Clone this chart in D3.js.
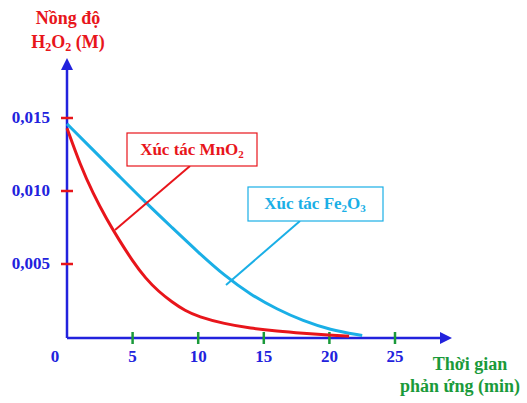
<!DOCTYPE html><html><head><meta charset="utf-8"><script src="https://cdn.jsdelivr.net/npm/d3@7"></script>
<style>body{margin:0;background:#fff}text{font-family:"Liberation Serif","DejaVu Serif",serif;font-weight:bold}</style></head><body>
<svg id="c" width="527" height="403"></svg>
<script>
const xTicks=[5,10,15,20,25];
const yTicks=[0.005,0.010,0.015];
const yTickLabels=["0,005","0,010","0,015"];
const redT=[0,1,2,3,4,5,6,7,8,9,10,12,14,16,18,20,21.5];
const redV=[0.0143,0.0118,0.0098,0.0081,0.0066,0.0052,0.0040,0.0031,0.0024,0.0018,0.0014,0.0009,0.0006,0.0004,0.00025,0.00012,0.00005];
const blueT=[0,2,4,6,8,10,12,14,16,18,20,22.5];
const blueV=[0.0146,0.0128,0.0110,0.0092,0.0075,0.0058,0.0042,0.0029,0.0019,0.0011,0.0005,0.0001];
const red="#e8151b",blue="#1aafe6",green="#1a9a3a",axis="#2222dd";
const svg=d3.select("#c");
const x=d3.scaleLinear().domain([0,25]).range([67,395]);
const y=d3.scaleLinear().domain([0,0.015]).range([337,118]);
svg.append("line").attr("x1",67).attr("y1",338).attr("x2",442).attr("y2",338).attr("stroke",axis).attr("stroke-width",2.5);
svg.append("path").attr("d","M452,338 L440,332 L440,344Z").attr("fill",axis);
svg.append("line").attr("x1",67).attr("y1",338).attr("x2",67).attr("y2",68).attr("stroke",axis).attr("stroke-width",2.5);
svg.append("path").attr("d","M67,58 L61,70 L73,70Z").attr("fill",axis);
xTicks.forEach(t=>{svg.append("line").attr("x1",x(t)).attr("x2",x(t)).attr("y1",332).attr("y2",344).attr("stroke",green).attr("stroke-width",2.5);
 svg.append("text").attr("x",x(t)).attr("y",362).attr("text-anchor","middle").attr("fill",axis).attr("font-size",17).text(t);});
svg.append("text").attr("x",55).attr("y",362).attr("text-anchor","middle").attr("fill",axis).attr("font-size",17).text("0");
yTicks.forEach((v,i)=>{svg.append("line").attr("x1",61).attr("x2",73).attr("y1",y(v)).attr("y2",y(v)).attr("stroke",red).attr("stroke-width",2.5);
 svg.append("text").attr("x",50).attr("y",y(v)+5).attr("text-anchor","end").attr("fill",axis).attr("font-size",17).text(yTickLabels[i]);});
svg.append("text").attr("x",68).attr("y",24).attr("text-anchor","middle").attr("fill",red).attr("font-size",18).text("Nồng độ");
svg.append("text").attr("x",68).attr("y",48).attr("text-anchor","middle").attr("fill",red).attr("font-size",18).html('H<tspan font-size="12" dy="3">2</tspan><tspan dy="-3">O</tspan><tspan font-size="12" dy="3">2</tspan><tspan dy="-3"> (M)</tspan>');
svg.append("text").attr("x",470).attr("y",370).attr("text-anchor","middle").attr("fill",green).attr("font-size",18).text("Thời gian");
svg.append("text").attr("x",460).attr("y",392).attr("text-anchor","middle").attr("fill",green).attr("font-size",18).text("phản ứng (min)");
const line=d3.line().curve(d3.curveBasis);
svg.append("path").attr("d",line(blueT.map((t,i)=>[x(t),y(blueV[i])]))).attr("fill","none").attr("stroke",blue).attr("stroke-width",3);
svg.append("path").attr("d",line(redT.map((t,i)=>[x(t),y(redV[i])]))).attr("fill","none").attr("stroke",red).attr("stroke-width",3);
svg.append("line").attr("x1",190).attr("y1",166).attr("x2",115).attr("y2",230).attr("stroke",red).attr("stroke-width",2);
svg.append("rect").attr("x",127).attr("y",133).attr("width",130).attr("height",33).attr("fill","#fff").attr("stroke",red).attr("stroke-width",1.2);
svg.append("text").attr("x",192).attr("y",155).attr("text-anchor","middle").attr("fill",red).attr("font-size",17).html('Xúc tác MnO<tspan font-size="11" dy="3">2</tspan>');
svg.append("line").attr("x1",300).attr("y1",221).attr("x2",226).attr("y2",285).attr("stroke",blue).attr("stroke-width",2);
svg.append("rect").attr("x",248).attr("y",187).attr("width",135).attr("height",34).attr("fill","#fff").attr("stroke",blue).attr("stroke-width",1.2);
svg.append("text").attr("x",315).attr("y",209).attr("text-anchor","middle").attr("fill",blue).attr("font-size",17).html('Xúc tác Fe<tspan font-size="11" dy="3">2</tspan><tspan dy="-3">O</tspan><tspan font-size="11" dy="3">3</tspan>');
</script></body></html>
